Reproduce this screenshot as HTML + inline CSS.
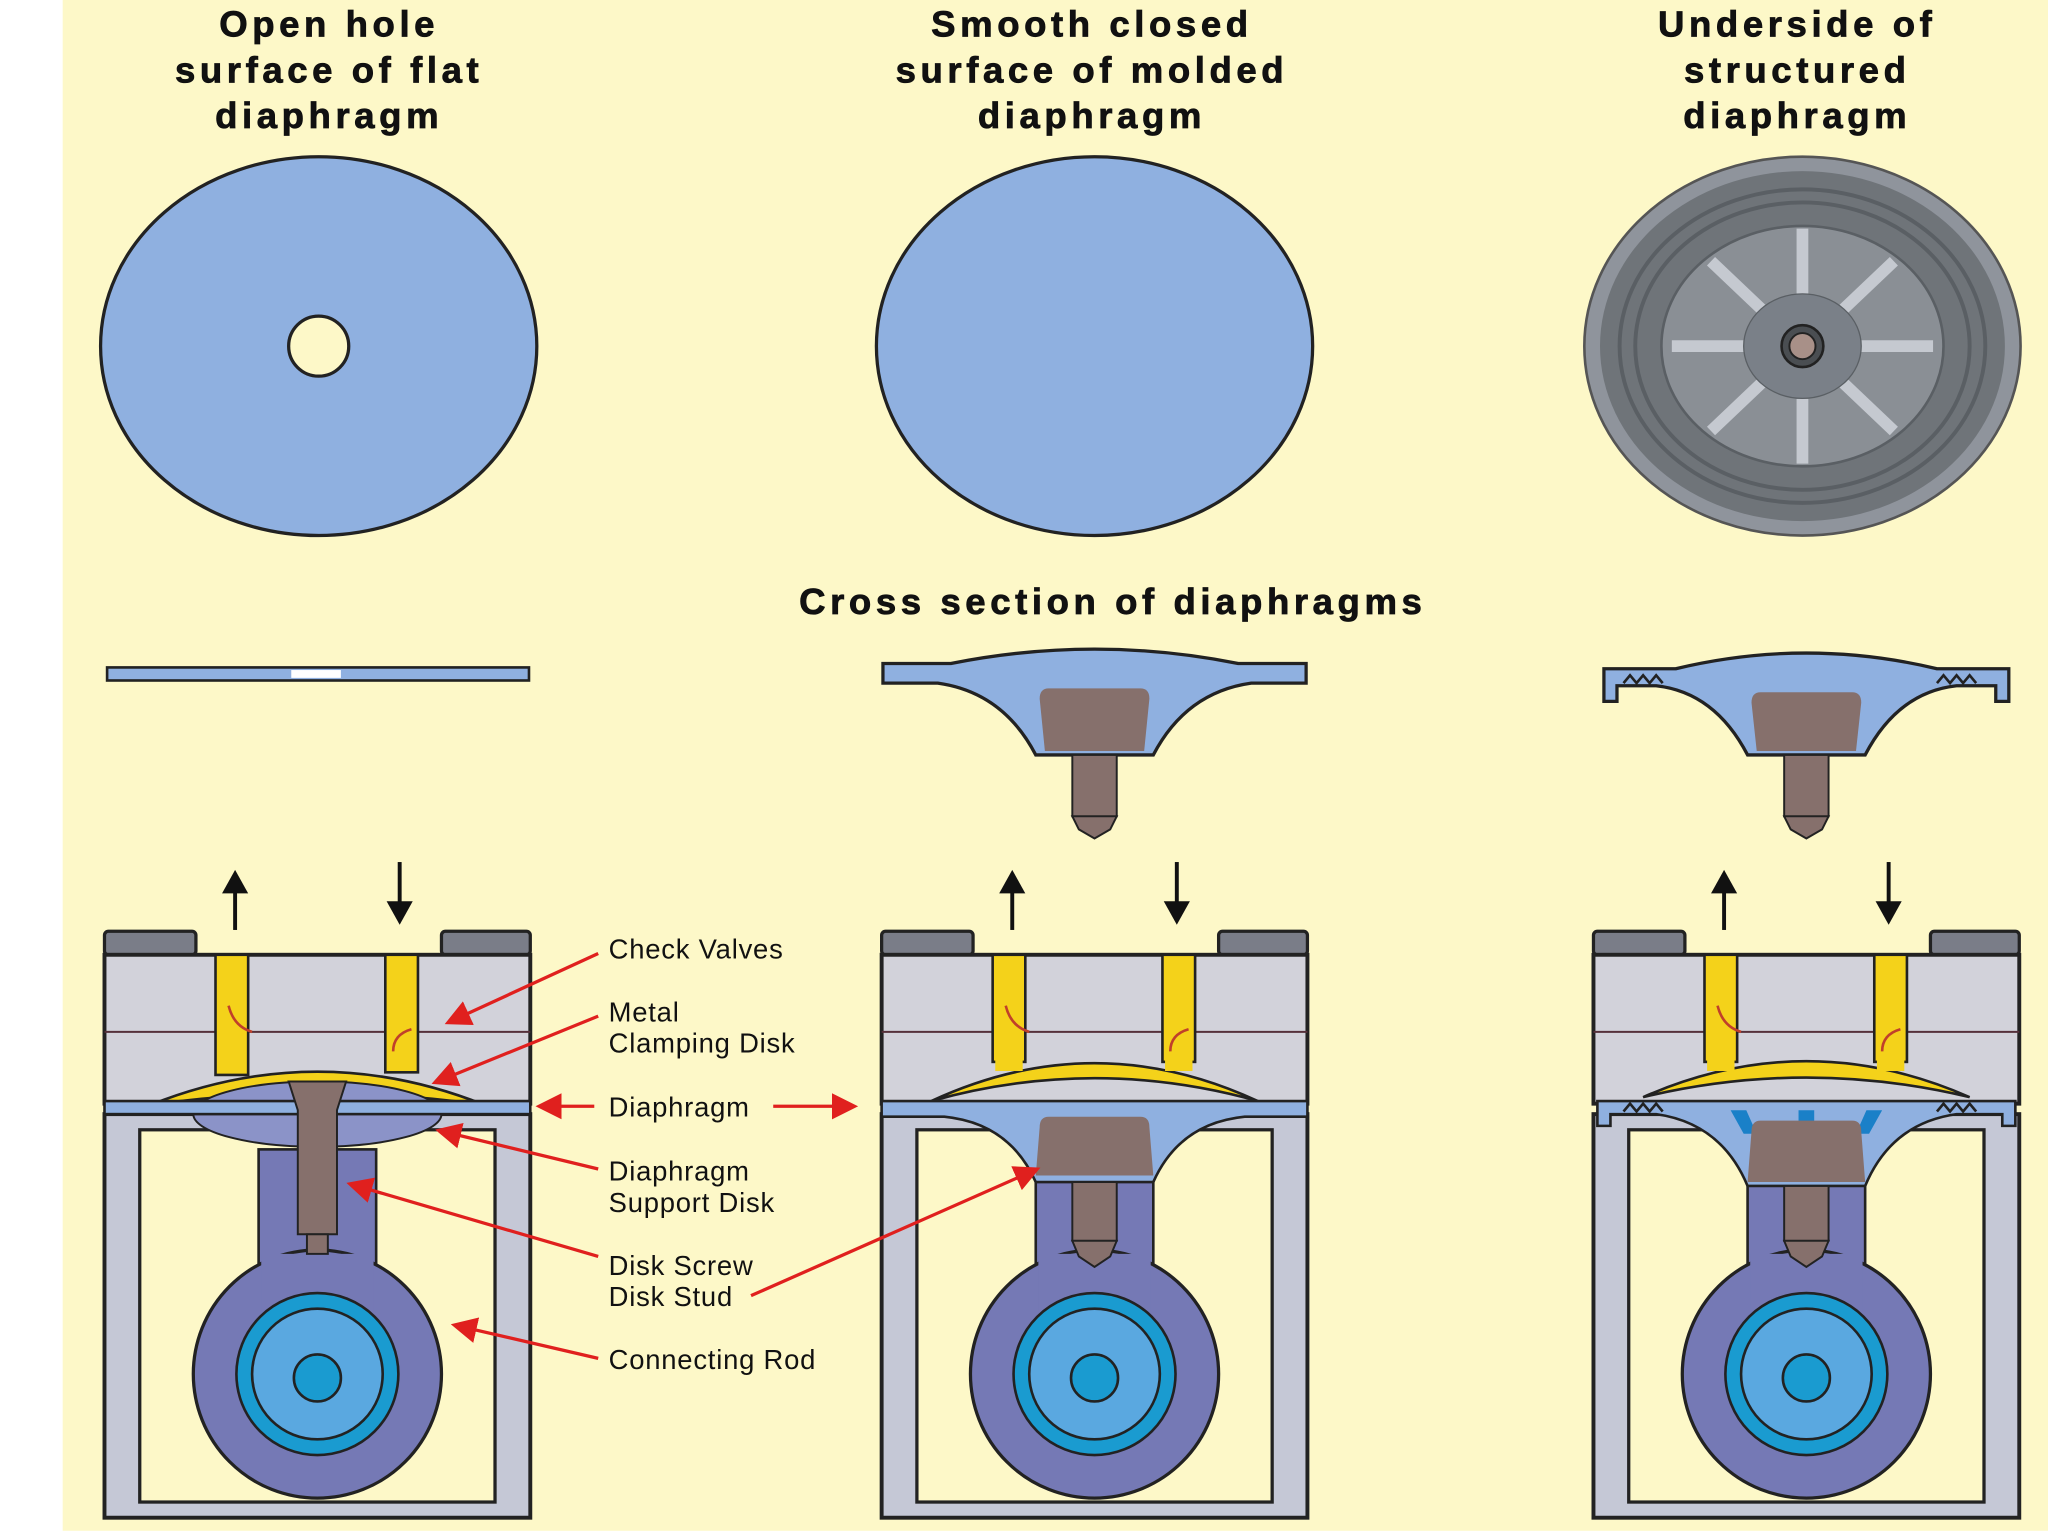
<!DOCTYPE html>
<html><head><meta charset="utf-8"><style>
html,body{margin:0;padding:0;background:#fff}
svg{display:block}
text{font-family:"Liberation Sans",sans-serif}
.t{font-weight:bold;font-size:28px;fill:#111;text-anchor:middle;letter-spacing:3.5px;stroke:#111;stroke-width:0.6}
.l{font-size:21px;fill:#111;letter-spacing:0.6px}
</style></head><body>
<svg width="2048" height="1536" viewBox="0 0 1568 1176" xmlns="http://www.w3.org/2000/svg">
<defs>
<marker id="ah" markerWidth="8" markerHeight="8" refX="6" refY="4" orient="auto" markerUnits="strokeWidth">
<path d="M0,0 L8,4 L0,8 Z" fill="#e0201e"/></marker>
<g id="house">
<rect x="-163" y="853" width="326" height="309" fill="#c5c8d6" stroke="#222" stroke-width="3"/>
<rect x="-136" y="865" width="272" height="285" fill="#fdf8c8" stroke="#222" stroke-width="2.5"/>
<rect x="-163" y="713" width="70" height="18" rx="3" fill="#7a7d88" stroke="#222" stroke-width="2.5"/>
<rect x="95" y="713" width="68" height="18" rx="3" fill="#7a7d88" stroke="#222" stroke-width="2.5"/>
<rect x="-163" y="731" width="326" height="114" fill="#d2d2da" stroke="#222" stroke-width="3"/>
<line x1="-163" y1="790" x2="163" y2="790" stroke="#55303a" stroke-width="1.5"/>
</g>
<g id="rod">
<rect x="-45" y="880" width="90" height="120" fill="#7579b5" stroke="#222" stroke-width="2"/>
<circle cx="0" cy="1052" r="95" fill="#7579b5" stroke="#222" stroke-width="2.5"/>
<rect x="-43" y="960" width="86" height="45" fill="#7579b5"/>
<circle cx="0" cy="1052" r="62" fill="#1a9bd0" stroke="#222" stroke-width="2"/>
<circle cx="0" cy="1052" r="50" fill="#5aa8e0" stroke="#222" stroke-width="2"/>
<circle cx="0" cy="1055" r="18" fill="#1a9bd0" stroke="#222" stroke-width="2"/>
</g>
<g id="upd">
<line x1="-63" y1="712" x2="-63" y2="682" stroke="#111" stroke-width="3"/>
<path d="M-73,684 L-63,666 L-53,684 Z" fill="#111"/>
<line x1="63" y1="660" x2="63" y2="692" stroke="#111" stroke-width="3"/>
<path d="M53,690 L63,708 L73,690 Z" fill="#111"/>
</g>
<g id="hooks">
<path d="M-68,770 Q-64,786 -50,790" fill="none" stroke="#c0402a" stroke-width="2"/>
<path d="M58,805 Q58,792 72,788" fill="none" stroke="#c0402a" stroke-width="2"/>
</g>
</defs>
<rect x="0" y="0" width="1568" height="1176" fill="#fff"/>
<rect x="48" y="0" width="1520" height="1172" fill="#fdf8c8"/>

<text class="t" x="252" y="28">Open hole</text>
<text class="t" x="252" y="63">surface of flat</text>
<text class="t" x="252" y="98">diaphragm</text>
<text class="t" x="836" y="28">Smooth closed</text>
<text class="t" x="836" y="63">surface of molded</text>
<text class="t" x="836" y="98">diaphragm</text>
<text class="t" x="1376" y="28">Underside of</text>
<text class="t" x="1376" y="63">structured</text>
<text class="t" x="1376" y="98">diaphragm</text>
<text class="t" x="852" y="470">Cross section of diaphragms</text>

<ellipse cx="244" cy="265" rx="167" ry="145" fill="#8fb0e0" stroke="#222" stroke-width="2.5"/>
<circle cx="244" cy="265" r="23" fill="#fdf8c8" stroke="#222" stroke-width="2.5"/>
<ellipse cx="838" cy="265" rx="167" ry="145" fill="#8fb0e0" stroke="#222" stroke-width="2.5"/>
<g transform="translate(1380,265)">
<ellipse rx="167" ry="145" fill="#8f949c" stroke="#555" stroke-width="2"/>
<ellipse rx="155" ry="134" fill="#6f7479"/>
<ellipse rx="140" ry="120" fill="none" stroke="#5a5f64" stroke-width="3"/>
<ellipse rx="128" ry="110" fill="none" stroke="#5a5f64" stroke-width="3"/>
<ellipse rx="108" ry="92" fill="#8a8f95" stroke="#5a5f64" stroke-width="2"/>
<g stroke="#c5c9d0" stroke-width="9">
<line x1="0" y1="-35" x2="0" y2="-90"/><line x1="0" y1="35" x2="0" y2="90"/>
<line x1="-45" y1="0" x2="-100" y2="0"/><line x1="45" y1="0" x2="100" y2="0"/>
<line x1="-30" y1="-27" x2="-70" y2="-65"/><line x1="30" y1="-27" x2="70" y2="-65"/>
<line x1="-30" y1="27" x2="-70" y2="65"/><line x1="30" y1="27" x2="70" y2="65"/>
</g>
<ellipse rx="45" ry="40" fill="#7a8088" stroke="#5a5f64"/>
<circle r="16" fill="#4a4e52" stroke="#222" stroke-width="2"/>
<circle r="10" fill="#a89088" stroke="#222" stroke-width="1.5"/>
</g>

<rect x="82" y="511" width="323" height="10" fill="#8fb0e0" stroke="#222" stroke-width="2"/>
<rect x="223" y="513" width="38" height="6" fill="#fff"/>
<g transform="translate(838,0)">
<path d="M-162,508 L-110,508 Q0,486 110,508 L162,508 L162,523 L120,523 Q70,530 45,578 L-45,578 Q-70,530 -120,523 L-162,523 Z" fill="#8fb0e0" stroke="#222" stroke-width="2.5"/>
<path d="M-35,527 L35,527 Q42,527 42,535 L38,575 L-38,575 L-42,535 Q-42,527 -35,527 Z" fill="#86706c"/>
<rect x="-17" y="578" width="34" height="47" fill="#86706c" stroke="#222" stroke-width="1.5"/>
<path d="M-17,625 L17,625 L12,635 L0,642 L-12,635 Z" fill="#86706c" stroke="#222" stroke-width="1.5"/>
</g>
<g transform="translate(1383,0)">
<path d="M-155,512 L-100,512 Q0,488 100,512 L155,512 L155,537 L145,537 L145,525 L115,525 Q70,530 45,578 L-45,578 Q-70,530 -115,525 L-145,525 L-145,537 L-155,537 Z" fill="#8fb0e0" stroke="#222" stroke-width="2.5"/>
<path d="M-140,523 l5,-6 l5,6 l5,-6 l5,6 l5,-6 l5,6 M100,523 l5,-6 l5,6 l5,-6 l5,6 l5,-6 l5,6" fill="none" stroke="#222" stroke-width="2"/>
<path d="M-35,530 L35,530 Q42,530 42,538 L38,575 L-38,575 L-42,538 Q-42,530 -35,530 Z" fill="#86706c"/>
<rect x="-17" y="578" width="34" height="47" fill="#86706c" stroke="#222" stroke-width="1.5"/>
<path d="M-17,625 L17,625 L12,635 L0,642 L-12,635 Z" fill="#86706c" stroke="#222" stroke-width="1.5"/>
</g>

<g transform="translate(243,0)">
<use href="#house"/>
<use href="#upd"/>
<use href="#rod"/>
<path d="M-128,846 Q0,795 128,846 Q0,828 -128,846 Z" fill="#f4d21a" stroke="#222" stroke-width="2"/>
<rect x="-78" y="731" width="25" height="92" fill="#f4d21a" stroke="#222" stroke-width="2"/>
<rect x="52" y="731" width="25" height="90" fill="#f4d21a" stroke="#222" stroke-width="2"/>
<ellipse cx="0" cy="853" rx="95" ry="25" fill="#8b93c8" stroke="#222" stroke-width="1.5"/>
<rect x="-163" y="843" width="326" height="10" fill="#8fb0e0" stroke="#222" stroke-width="2"/>
<path d="M-22,828 L22,828 L15,850 L15,945 L-15,945 L-15,850 Z" fill="#86706c" stroke="#222" stroke-width="1.5"/>
<rect x="-8" y="945" width="16" height="15" fill="#86706c" stroke="#222" stroke-width="1.5"/>
<use href="#hooks"/>
</g>

<g transform="translate(838,0)">
<use href="#house"/>
<use href="#upd"/>
<use href="#rod"/>
<path d="M-125,843 Q0,785 125,843 Q0,808 -125,843 Z" fill="#f4d21a" stroke="#222" stroke-width="2"/>
<rect x="-78" y="731" width="25" height="82" fill="#f4d21a" stroke="#222" stroke-width="2"/>
<rect x="52" y="731" width="25" height="82" fill="#f4d21a" stroke="#222" stroke-width="2"/>
<rect x="-76" y="800" width="21" height="20" fill="#f4d21a"/>
<rect x="54" y="800" width="21" height="20" fill="#f4d21a"/>
<path d="M-163,843 L163,843 L163,855 L115,855 Q65,860 45,905 L-45,905 Q-65,860 -115,855 L-163,855 Z" fill="#8fb0e0" stroke="#222" stroke-width="2"/>
<path d="M-35,855 L35,855 Q42,855 42,863 L45,900 L-45,900 L-42,863 Q-42,855 -35,855 Z" fill="#86706c"/>
<rect x="-17" y="905" width="34" height="45" fill="#86706c" stroke="#222" stroke-width="1.5"/>
<path d="M-17,950 L17,950 L12,962 L0,970 L-12,962 Z" fill="#86706c" stroke="#222" stroke-width="1.5"/>
<use href="#hooks"/>
</g>

<g transform="translate(1383,0)">
<use href="#house"/>
<use href="#upd"/>
<use href="#rod"/>
<path d="M-125,840 Q0,785 125,840 Q0,810 -125,840 Z" fill="#f4d21a" stroke="#222" stroke-width="2"/>
<rect x="-78" y="731" width="25" height="82" fill="#f4d21a" stroke="#222" stroke-width="2"/>
<rect x="52" y="731" width="25" height="82" fill="#f4d21a" stroke="#222" stroke-width="2"/>
<rect x="-76" y="800" width="21" height="20" fill="#f4d21a"/>
<rect x="54" y="800" width="21" height="20" fill="#f4d21a"/>
<path d="M-160,843 L160,843 L160,862 L150,862 L150,853 L115,853 Q65,860 45,908 L-45,908 Q-65,860 -115,853 L-150,853 L-150,862 L-160,862 Z" fill="#8fb0e0" stroke="#222" stroke-width="2"/>
<path d="M-140,851 l5,-6 l5,6 l5,-6 l5,6 l5,-6 l5,6 M100,851 l5,-6 l5,6 l5,-6 l5,6 l5,-6 l5,6" fill="none" stroke="#222" stroke-width="2"/>
<path d="M-58,850 L-46,850 L-38,868 L-48,868 Z M-6,850 L6,850 L6,862 L-6,862 Z M46,850 L58,850 L48,868 L38,868 Z" fill="#1a80c8"/>
<path d="M-35,858 L35,858 Q42,858 42,866 L45,905 L-45,905 L-42,866 Q-42,858 -35,858 Z" fill="#86706c"/>
<rect x="-17" y="908" width="34" height="42" fill="#86706c" stroke="#222" stroke-width="1.5"/>
<path d="M-17,950 L17,950 L12,962 L0,970 L-12,962 Z" fill="#86706c" stroke="#222" stroke-width="1.5"/>
<use href="#hooks"/>
</g>

<text class="l" x="466" y="734">Check Valves</text>
<text class="l" x="466" y="782">Metal</text>
<text class="l" x="466" y="806">Clamping Disk</text>
<text class="l" x="466" y="855">Diaphragm</text>
<text class="l" x="466" y="904">Diaphragm</text>
<text class="l" x="466" y="928">Support Disk</text>
<text class="l" x="466" y="976">Disk Screw</text>
<text class="l" x="466" y="1000">Disk Stud</text>
<text class="l" x="466" y="1048">Connecting Rod</text>
<g stroke="#e0201e" stroke-width="2.5" fill="none" marker-end="url(#ah)">
<line x1="458" y1="730" x2="345" y2="782"/>
<line x1="458" y1="778" x2="335" y2="828"/>
<line x1="455" y1="847" x2="415" y2="847"/>
<line x1="592" y1="847" x2="652" y2="847"/>
<line x1="458" y1="895" x2="338" y2="866"/>
<line x1="458" y1="962" x2="270" y2="907"/>
<line x1="575" y1="992" x2="792" y2="896"/>
<line x1="458" y1="1040" x2="350" y2="1015"/>
</g>
</svg>
</body></html>
